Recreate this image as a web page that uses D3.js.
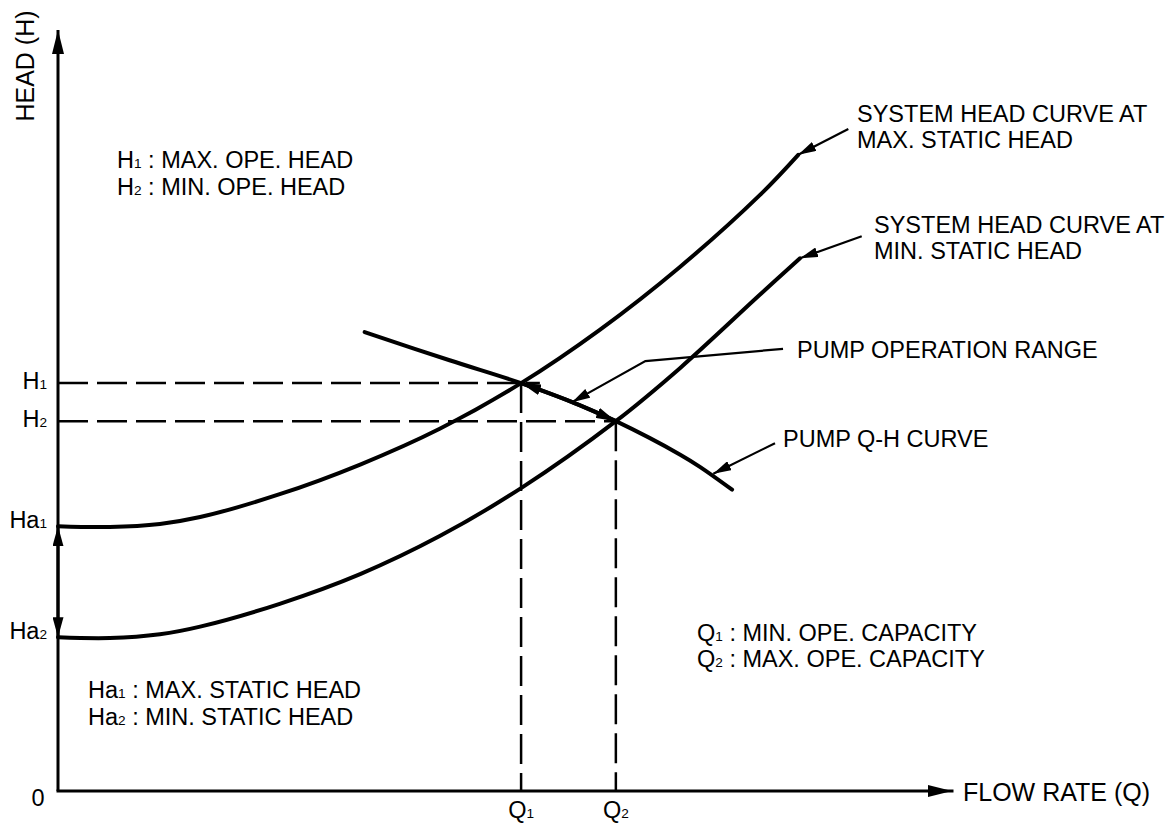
<!DOCTYPE html>
<html>
<head>
<meta charset="utf-8">
<script src="https://cdn.jsdelivr.net/npm/d3@7"></script>
<style>
  body { margin: 0; background: #fff; }
  svg text { font-family: "Liberation Sans", Arial, Helvetica, sans-serif; fill: #000; }
</style>
</head>
<body>
<div id="chart"></div>
<script>
// ---- data (flow / head in % of axis length) ----
var Q1 = 51.8, Q2 = 62.4;
var H1 = 53.6, H2 = 48.6;
var Ha1 = 34.8, Ha2 = 20.2;

var maxStaticCurve = [[0, 34.8], [5.8, 34.7], [11.4, 35.1], [15.9, 36.0], [24.8, 39.0], [33.8, 42.9],
  [42.7, 47.6], [51.8, 53.6], [60.6, 60.6], [69.6, 68.9], [78.5, 78.3], [82.8, 83.6]];
var minStaticCurve = [[0, 20.2], [5.8, 20.1], [11.4, 20.6], [15.9, 21.6], [24.8, 24.6], [33.8, 28.5],
  [42.7, 33.5], [51.8, 39.8], [62.4, 48.6], [69.6, 55.6], [78.5, 65.2], [83.0, 70.0]];
var pumpCurve = [[34.3, 60.3], [43.8, 56.6], [51.8, 53.6], [57.3, 51.2], [62.4, 48.6],
  [69.6, 44.2], [71.8, 42.6], [75.4, 39.6]];

// leader lines: from label to the curve
var leaders = [
  [[88.4, 87.0], [82.8, 83.6]],
  [[89.9, 72.9], [83.0, 70.0]],
  [[81.1, 58.1], [65.7, 56.5], [57.5, 51.1]],
  [[80.2, 45.7], [73.3, 41.7]]
];

var headLabels = [["H", "1"], ["H", "2"], ["Ha", "1"], ["Ha", "2"]];
var flowLabels = [["Q", "1"], ["Q", "2"]];
var legendTopLeft = [["H", "1", " : MAX. OPE. HEAD"], ["H", "2", " : MIN. OPE. HEAD"]];
var legendBottomLeft = [["Ha", "1", " : MAX. STATIC HEAD"], ["Ha", "2", " : MIN. STATIC HEAD"]];
var legendRight = [["Q", "1", " : MIN. OPE. CAPACITY"], ["Q", "2", " : MAX. OPE. CAPACITY"]];
var curveNotes = [
  ["SYSTEM HEAD CURVE AT", "MAX. STATIC HEAD"],
  ["SYSTEM HEAD CURVE AT", "MIN. STATIC HEAD"],
  ["PUMP OPERATION RANGE"],
  ["PUMP Q-H CURVE"]
];

var width = 1173, height = 823;

var svg = d3.select("#chart").append("svg")
  .attr("width", width)
  .attr("height", height);

var x = d3.scaleLinear().domain([0, 100]).range([58, 952]);
var y = d3.scaleLinear().domain([0, 100]).range([791, 30]);

// arrowhead markers
var defs = svg.append("defs");
function marker(id, len, half) {
  defs.append("marker")
    .attr("id", id)
    .attr("markerUnits", "userSpaceOnUse")
    .attr("viewBox", "0 " + (-half) + " " + len + " " + (2 * half))
    .attr("refX", len).attr("refY", 0)
    .attr("markerWidth", len).attr("markerHeight", 2 * half)
    .attr("orient", "auto-start-reverse")
    .append("path")
    .attr("d", "M0," + (-half) + "L" + len + ",0L0," + half + "Z")
    .attr("fill", "#000");
}
marker("axisArrow", 24, 6);
marker("bigArrow", 20, 5.5);
marker("leadArrow", 18, 5);

var line = d3.line()
  .x(d => x(d[0]))
  .y(d => y(d[1]))
  .curve(d3.curveCatmullRom.alpha(0.5));

// ---- dashed guide lines ----
var dash = "30,9";
svg.append("line")
  .attr("x1", x(0)).attr("x2", x(53.9))
  .attr("y1", y(H1)).attr("y2", y(H1))
  .attr("stroke", "#000").attr("stroke-width", 2.5).attr("stroke-dasharray", dash);
svg.append("line")
  .attr("x1", x(0)).attr("x2", x(Q2))
  .attr("y1", y(H2)).attr("y2", y(H2))
  .attr("stroke", "#000").attr("stroke-width", 2.5).attr("stroke-dasharray", dash);
svg.append("line")
  .attr("x1", x(Q1)).attr("x2", x(Q1))
  .attr("y1", y(H1)).attr("y2", y(0))
  .attr("stroke", "#000").attr("stroke-width", 2.5).attr("stroke-dasharray", dash);
svg.append("line")
  .attr("x1", x(Q2)).attr("x2", x(Q2))
  .attr("y1", y(H2)).attr("y2", y(0))
  .attr("stroke", "#000").attr("stroke-width", 2.5).attr("stroke-dasharray", dash);

// ---- axes ----
svg.append("line")
  .attr("x1", x(0)).attr("y1", y(0))
  .attr("x2", x(0)).attr("y2", y(100))
  .attr("stroke", "#000").attr("stroke-width", 3)
  .attr("marker-end", "url(#axisArrow)");
svg.append("line")
  .attr("x1", x(0)).attr("y1", y(0))
  .attr("x2", x(100)).attr("y2", y(0))
  .attr("stroke", "#000").attr("stroke-width", 3)
  .attr("stroke-linecap", "square")
  .attr("marker-end", "url(#axisArrow)");

// static head double arrow on the y axis
svg.append("line")
  .attr("x1", x(0)).attr("y1", y(Ha2))
  .attr("x2", x(0)).attr("y2", y(Ha1))
  .attr("stroke", "#000").attr("stroke-width", 3)
  .attr("marker-start", "url(#bigArrow)")
  .attr("marker-end", "url(#bigArrow)");

// ---- curves ----
[maxStaticCurve, minStaticCurve, pumpCurve].forEach(function(c) {
  svg.append("path")
    .datum(c)
    .attr("d", line)
    .attr("fill", "none")
    .attr("stroke", "#000")
    .attr("stroke-width", 4)
    .attr("stroke-linecap", "round");
});

// operation range arrows along the pump curve
svg.append("path")
  .datum(pumpCurve.filter(d => d[0] >= Q1 && d[0] <= Q2))
  .attr("d", line)
  .attr("fill", "none")
  .attr("stroke", "#000")
  .attr("stroke-width", 4)
  .attr("marker-start", "url(#bigArrow)")
  .attr("marker-end", "url(#bigArrow)");

// leader lines
leaders.forEach(function(l) {
  svg.append("path")
    .datum(l)
    .attr("d", d3.line().x(d => x(d[0])).y(d => y(d[1])))
    .attr("fill", "none")
    .attr("stroke", "#000")
    .attr("stroke-width", 2.2)
    .attr("marker-end", "url(#leadArrow)");
});

// ---- text ----
var fs = 23.5;
function subText(px, py, parts, anchor, size) {
  var t = svg.append("text")
    .attr("x", px).attr("y", py)
    .attr("font-size", size || fs)
    .attr("text-anchor", anchor || "start");
  t.append("tspan").text(parts[0]);
  t.append("tspan").attr("font-size", (size || fs) * 0.58).text(parts[1]);
  if (parts[2]) t.append("tspan").text(parts[2]);
  return t;
}

// y-side labels
[H1, H2, Ha1, Ha2].forEach(function(v, i) {
  subText(47, y(v) + (i < 2 ? 6 : 2), headLabels[i], "end");
});
// x-side labels
[Q1, Q2].forEach(function(v, i) {
  subText(x(v), 818, flowLabels[i], "middle");
});

svg.append("text").attr("x", 38).attr("y", 806)
  .attr("font-size", fs).attr("text-anchor", "middle").text("0");

svg.append("text")
  .attr("transform", "translate(34,66) rotate(-90)")
  .attr("font-size", 25)
  .attr("text-anchor", "middle")
  .text("HEAD (H)");
svg.append("text")
  .attr("x", 963).attr("y", 801)
  .attr("font-size", 25)
  .text("FLOW RATE (Q)");

legendTopLeft.forEach((p, i) => subText(117, 168 + i * 27, p));
legendBottomLeft.forEach((p, i) => subText(88, 698 + i * 27, p));
legendRight.forEach((p, i) => subText(697, 641 + i * 26, p));

var notePos = [[857, 122], [874, 233], [797, 358], [783, 447]];
curveNotes.forEach(function(lines, i) {
  lines.forEach(function(s, j) {
    svg.append("text")
      .attr("x", notePos[i][0]).attr("y", notePos[i][1] + j * 26)
      .attr("font-size", fs)
      .text(s);
  });
});
</script>
</body>
</html>
